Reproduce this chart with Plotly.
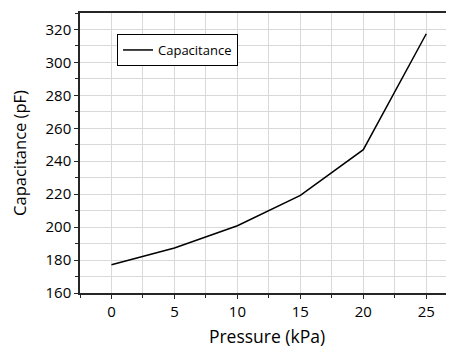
import plotly.graph_objects as go

pressure = [0, 5, 10, 15, 20, 25]
capacitance = [177.2, 187.3, 200.8, 219.3, 247.0, 317.4]
x_ticks = [0, 5, 10, 15, 20, 25]
y_ticks = [160, 180, 200, 220, 240, 260, 280, 300, 320]

FONT = "Open Sans"
GRID = "#d9d9d9"
AX = "#262626"

fig = go.Figure()
fig.add_trace(go.Scatter(x=pressure, y=capacitance, mode="lines", name="Capacitance",
                         line=dict(color="black", width=1.5)))

# page body has an 8px margin, so figure is sized/margined to compensate
fig.update_layout(
    width=446, height=340,
    margin=dict(l=72, r=0, t=5, b=55, autoexpand=False),
    plot_bgcolor="white", paper_bgcolor="white",
    font=dict(family=FONT, color="black"),
    showlegend=True,
    legend=dict(x=0.099, y=0.925, xanchor="left", yanchor="top",
                bordercolor="black", borderwidth=1, bgcolor="white",
                font=dict(size=13, family=FONT), itemwidth=30,
                tracegroupgap=0),
)
fig.update_xaxes(
    range=[-2.5, 27.2], tickvals=x_ticks, ticktext=[str(v) for v in x_ticks],
    showgrid=True, gridcolor=GRID, gridwidth=1,
    showline=True, linecolor=AX, linewidth=1.5, mirror=True,
    ticks="outside", ticklen=4, tickcolor=AX,
    minor=dict(dtick=2.5, tick0=0, showgrid=True, gridcolor=GRID, ticks="outside", ticklen=3, tickcolor=AX),
    zeroline=False,
    tickfont=dict(size=15, family=FONT),
    title=dict(text="Pressure (kPa)", font=dict(size=17.5, family=FONT), standoff=12),
)
fig.update_yaxes(
    range=[160, 330], tickvals=y_ticks,
    showgrid=True, gridcolor=GRID, gridwidth=1,
    showline=True, linecolor=AX, linewidth=1.5,
    ticks="outside", ticklen=4, tickcolor=AX,
    minor=dict(dtick=10, tick0=160, showgrid=True, gridcolor=GRID, ticks="outside", ticklen=3, tickcolor=AX),
    zeroline=False,
    tickfont=dict(size=15, family=FONT),
    title=dict(text="Capacitance (pF)", font=dict(size=16.5, family=FONT), standoff=19),
)
fig.write_html("out.html")
